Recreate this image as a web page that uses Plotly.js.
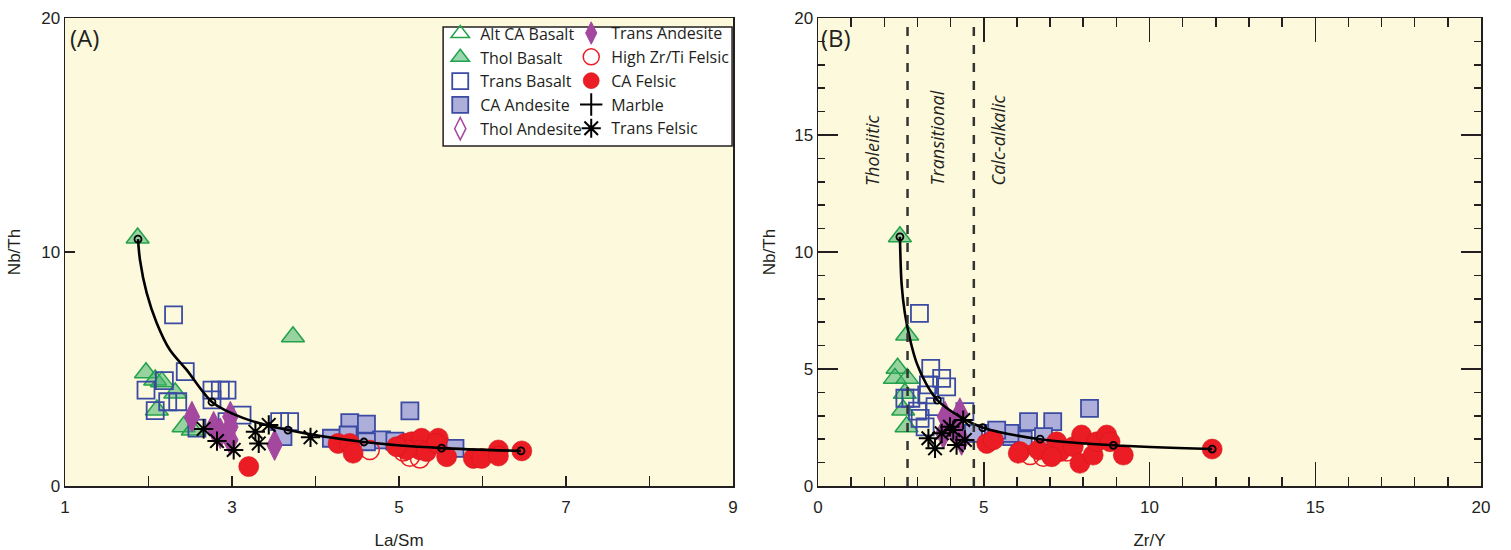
<!DOCTYPE html>
<html><head><meta charset="utf-8">
<script src="https://cdn.plot.ly/plotly-3.0.1.min.js"></script>
<style>html,body{margin:0;padding:0;background:#fff;}#chart{width:1511px;height:550px;}</style>
</head><body><div id="chart"></div>
<script>
// ---------- Panel A (La/Sm vs Nb/Th) ----------
const A_altCABasalt_x = [null], A_altCABasalt_y = [null];
const A_tholBasalt_x = [1.87,3.73,1.97,2.08,2.16,2.32,2.10,2.42,2.53];
const A_tholBasalt_y = [10.6,6.38,4.84,4.53,4.46,3.97,3.25,2.53,2.39];
const A_transBasalt_x = [2.30,2.44,2.19,1.97,2.23,2.35,2.08,2.76,2.86,2.94,2.76,3.12,2.58,2.94,3.57,3.69];
const A_transBasalt_y = [7.31,4.89,4.50,4.10,3.60,3.60,3.22,4.10,4.10,4.10,3.68,3.03,2.47,2.75,2.75,2.75];
const A_caAndesite_x = [5.13,4.41,4.61,4.19,4.39,4.79,4.61,5.67,3.61,4.95];
const A_caAndesite_y = [3.21,2.71,2.64,2.04,2.18,1.97,1.89,1.61,2.11,1.92];
const A_tholAndesite_x = [null], A_tholAndesite_y = [null];
const A_transAndesite_x = [2.52,2.78,2.98,2.98,2.98,3.51,2.86];
const A_transAndesite_y = [2.96,2.53,2.96,2.53,1.97,1.75,2.25];
const A_highZrTi_x = [4.65,5.05,5.25,5.01,5.13];
const A_highZrTi_y = [1.54,1.47,1.18,1.68,1.25];
const A_caFelsic_x = [3.20,4.27,4.41,4.45,5.07,5.15,5.27,5.25,5.47,5.57,5.89,5.99,6.19,6.19,6.47,5.09,5.33,4.97,5.45];
const A_caFelsic_y = [0.83,1.82,1.82,1.40,1.82,1.89,2.04,1.54,2.04,1.25,1.18,1.18,1.54,1.28,1.50,1.54,1.47,1.68,1.82];
const A_marble_x = [null], A_marble_y = [null];
const A_transFelsic_x = [2.66,2.82,3.02,3.28,3.44,3.32,3.94];
const A_transFelsic_y = [2.44,1.92,1.54,2.32,2.61,1.82,2.08];
const A_curve_x = [1.874,1.898,1.978,2.098,2.257,2.457,2.76,3.13,3.67,4.58,5.51,6.46];
const A_curve_y = [10.55,9.66,8.25,6.97,5.81,4.96,3.59,2.91,2.39,1.88,1.62,1.50];
const A_curveTicks_x = [1.874,2.76,3.67,4.58,5.51,6.46];
const A_curveTicks_y = [10.55,3.59,2.39,1.88,1.62,1.50];

// ---------- Panel B (Zr/Y vs Nb/Th) ----------
const B_altCABasalt_x = [null], B_altCABasalt_y = [null];
const B_tholBasalt_x = [2.47,2.69,2.40,2.32,2.69,2.62,2.57,2.67];
const B_tholBasalt_y = [10.65,6.45,5.03,4.60,4.60,3.96,3.25,2.53];
const B_transBasalt_x = [3.06,3.40,3.73,3.88,2.80,3.33,3.28,3.53,3.08,3.23,4.43,2.62,3.00];
const B_transBasalt_y = [7.38,5.03,4.60,4.24,3.75,4.32,3.89,3.39,2.89,2.53,3.18,3.75,3.20];
const B_caAndesite_x = [8.19,6.35,7.08,5.29,5.84,6.19,6.80,4.69,5.79,5.39];
const B_caAndesite_y = [3.32,2.75,2.75,2.25,2.11,1.97,2.11,2.25,2.25,2.39];
const B_tholAndesite_x = [null], B_tholAndesite_y = [null];
const B_transAndesite_x = [3.83,4.28,4.33,3.78,4.08];
const B_transAndesite_y = [2.96,3.11,1.97,2.25,2.53];
const B_highZrTi_x = [6.40,6.80,7.50];
const B_highZrTi_y = [1.32,1.25,1.47];
const B_caFelsic_x = [5.09,5.29,6.09,6.65,7.20,7.30,7.05,7.70,7.95,7.90,8.30,8.41,8.71,8.81,9.21,11.89,6.04];
const B_caFelsic_y = [1.82,1.97,1.47,1.54,1.89,1.47,1.25,1.68,2.18,0.97,1.32,1.89,2.18,1.89,1.32,1.58,1.40];
const B_marble_x = [null], B_marble_y = [null];
const B_transFelsic_x = [3.33,3.53,3.73,3.98,4.18,4.38,4.08,4.43];
const B_transFelsic_y = [2.04,1.61,2.25,2.53,1.75,2.82,2.39,1.97];
const B_curve_x = [2.47,2.52,2.62,2.78,2.98,3.28,3.6,4.28,4.98,6.70,8.91,11.89];
const B_curve_y = [10.65,8.66,7.38,6.24,5.24,4.32,3.67,2.96,2.49,2.0,1.74,1.58];
const B_curveTicks_x = [2.47,3.6,4.97,6.70,8.91,11.89];
const B_curveTicks_y = [10.65,3.67,2.49,2.0,1.74,1.58];
const B_fieldBoundaries = [2.7, 4.7];
const B_fieldLabels = ['Tholeiitic','Transitional','Calc-alkalic'];
const B_fieldLabel_x = [1.63,3.59,5.43];

// ---------- styles ----------
const GREEN = '#22a24a', GREENFILL = 'rgba(70,180,110,0.55)';
const BLUE = '#3b4ba3', LAV = '#aeaedb';
const PURPLE = '#a3479f', RED = '#ec1c24';
const series = [
  {name:'Alt CA Basalt', key:'altCABasalt', legend:'legend', m:{symbol:'triangle-up-open', size:20, color:GREEN, line:{color:GREEN,width:1.5}}},
  {name:'Thol Basalt', key:'tholBasalt', legend:'legend', m:{symbol:'triangle-up', size:20, color:GREENFILL, line:{color:GREEN,width:1.5}}},
  {name:'Trans Basalt', key:'transBasalt', legend:'legend', m:{symbol:'square-open', size:17, color:BLUE, line:{color:BLUE,width:1.8}}},
  {name:'CA Andesite', key:'caAndesite', legend:'legend', m:{symbol:'square', size:17, color:LAV, line:{color:BLUE,width:1.8}}},
  {name:'Thol Andesite', key:'tholAndesite', legend:'legend', m:{symbol:'diamond-tall-open', size:22, color:PURPLE, line:{color:PURPLE,width:1.5}}},
  {name:'Trans Andesite', key:'transAndesite', legend:'legend2', m:{symbol:'diamond-tall', size:22, color:PURPLE, line:{color:PURPLE,width:1}}},
  {name:'High Zr/Ti Felsic', key:'highZrTi', legend:'legend2', m:{symbol:'circle-open', size:19, color:RED, line:{color:RED,width:1.5}}},
  {name:'CA Felsic', key:'caFelsic', legend:'legend2', m:{symbol:'circle', size:20, color:RED, line:{color:'rgba(210,20,30,0.6)',width:1}}},
  {name:'Marble', key:'marble', legend:'legend2', m:{symbol:'cross-thin-open', size:16, color:'#000', line:{color:'#000',width:2}}},
  {name:'Trans Felsic', key:'transFelsic', legend:'legend2', m:{symbol:'asterisk-open', size:16, color:'#000', line:{color:'#000',width:2}}}
];
const DATA = {
  A:{altCABasalt:[A_altCABasalt_x,A_altCABasalt_y],tholBasalt:[A_tholBasalt_x,A_tholBasalt_y],transBasalt:[A_transBasalt_x,A_transBasalt_y],caAndesite:[A_caAndesite_x,A_caAndesite_y],tholAndesite:[A_tholAndesite_x,A_tholAndesite_y],transAndesite:[A_transAndesite_x,A_transAndesite_y],highZrTi:[A_highZrTi_x,A_highZrTi_y],caFelsic:[A_caFelsic_x,A_caFelsic_y],marble:[A_marble_x,A_marble_y],transFelsic:[A_transFelsic_x,A_transFelsic_y]},
  B:{altCABasalt:[B_altCABasalt_x,B_altCABasalt_y],tholBasalt:[B_tholBasalt_x,B_tholBasalt_y],transBasalt:[B_transBasalt_x,B_transBasalt_y],caAndesite:[B_caAndesite_x,B_caAndesite_y],tholAndesite:[B_tholAndesite_x,B_tholAndesite_y],transAndesite:[B_transAndesite_x,B_transAndesite_y],highZrTi:[B_highZrTi_x,B_highZrTi_y],caFelsic:[B_caFelsic_x,B_caFelsic_y],marble:[B_marble_x,B_marble_y],transFelsic:[B_transFelsic_x,B_transFelsic_y]}
};
const drawOrder = ['tholBasalt','altCABasalt','transBasalt','caAndesite','highZrTi','caFelsic','tholAndesite','transAndesite','marble','transFelsic'];
const traces = [];
['A','B'].forEach(p => {
  const xa = p==='A' ? 'x' : 'x2', ya = p==='A' ? 'y' : 'y2';
  drawOrder.forEach(k => {
    const s = series.find(q => q.key===k);
    if (k==='transFelsic') return;
    traces.push({type:'scatter', mode:'markers', x:DATA[p][k][0], y:DATA[p][k][1], xaxis:xa, yaxis:ya,
      name:s.name, legendgroup:s.key, legend:s.legend, showlegend:p==='A', marker:s.m, hoverinfo:'x+y'});
  });
  const cx = p==='A' ? A_curve_x : B_curve_x, cy = p==='A' ? A_curve_y : B_curve_y;
  const tx = p==='A' ? A_curveTicks_x : B_curveTicks_x, ty = p==='A' ? A_curveTicks_y : B_curveTicks_y;
  traces.push({type:'scatter', mode:'lines', x:cx, y:cy, xaxis:xa, yaxis:ya, showlegend:false,
    line:{color:'#000', width:2.6, shape:'spline', smoothing:0.8}, hoverinfo:'skip'});
  traces.push({type:'scatter', mode:'markers', x:tx, y:ty, xaxis:xa, yaxis:ya, showlegend:false,
    marker:{symbol:'circle-open', size:7, color:'#000', line:{color:'#000', width:1.8}}, hoverinfo:'skip'});
  const s = series.find(q => q.key==='transFelsic');
  traces.push({type:'scatter', mode:'markers', x:DATA[p].transFelsic[0], y:DATA[p].transFelsic[1], xaxis:xa, yaxis:ya,
    name:s.name, legendgroup:s.key, legend:s.legend, showlegend:p==='A', marker:s.m});
});
traces.forEach(t => { const i = series.findIndex(q => q.name===t.name); if (i>=0) t.legendrank = i+1; });

const FONT = '"Liberation Sans", Arial, sans-serif';
const tickFont = {family:FONT, size:17, color:'#231f20'};
const baseAxis = {showgrid:false, zeroline:false, showline:true, linecolor:'#231f20', linewidth:1.5,
  ticks:'inside', tickcolor:'#231f20', tickwidth:1.5, tickfont:tickFont, fixedrange:true};

const shapes = [
  {type:'rect', xref:'x domain', yref:'y domain', x0:0.566, x1:0.9985, y0:0.7265, y1:0.981,
   fillcolor:'#ffffff', line:{color:'#231f20', width:1.5}, layer:'below'}
];
B_fieldBoundaries.forEach(v => shapes.push({type:'line', xref:'x2', yref:'y2 domain', x0:v, x1:v, y0:0, y1:1,
  line:{color:'#333', width:2.5, dash:'dash'}}));

const annotations = [
  {text:'(A)', xref:'x domain', yref:'y domain', x:0.004, y:0.997, xanchor:'left', yanchor:'top', showarrow:false,
   font:{family:'Open Sans, sans-serif', size:24, color:'#231f20'}},
  {text:'(B)', xref:'x2 domain', yref:'y2 domain', x:0.002, y:0.997, xanchor:'left', yanchor:'top', showarrow:false,
   font:{family:'Open Sans, sans-serif', size:24, color:'#231f20'}}
];
B_fieldLabels.forEach((t,i) => annotations.push({text:'<i>'+t+'</i>', xref:'x2', yref:'y2', x:B_fieldLabel_x[i], y:12.74,
  xanchor:'center', yanchor:'bottom', textangle:-90, showarrow:false, font:{family:'Open Sans, sans-serif', size:18, color:'#231f20'}}));

const legendBase = {bgcolor:'rgba(0,0,0,0)', borderwidth:0, font:{family:'Open Sans, sans-serif', size:16, color:'#231f20'},
  xanchor:'left', yanchor:'top', tracegroupgap:3, itemclick:false, itemdoubleclick:false, traceorder:'normal'};

const layout = {
  width:1511, height:550, paper_bgcolor:'#ffffff', plot_bgcolor:'#fdf9dc',
  margin:{l:65, r:30, t:18, b:64},
  showlegend:true,
  legend:Object.assign({}, legendBase, {x:0.265, y:1.003}),
  legend2:Object.assign({}, legendBase, {x:0.3575, y:1.004}),
  xaxis:Object.assign({}, baseAxis, {domain:[0,0.4718], range:[1,9], tick0:1, dtick:2, ticklen:10, mirror:true, ticklabelstandoff:5,
    minor:{dtick:1, tick0:1, ticklen:10, ticks:'inside', tickcolor:'#231f20', tickwidth:1.5},
    title:{text:'La/Sm', font:{family:FONT, size:17, color:'#231f20'}, standoff:18}}),
  yaxis:Object.assign({}, baseAxis, {domain:[0,1], range:[0,20], tickvals:[0,10,20], ticklen:10, mirror:true,
    title:{text:'Nb/Th', font:{family:FONT, size:17, color:'#231f20'}, standoff:16}}),
  xaxis2:Object.assign({}, baseAxis, {domain:[0.5318,1], range:[0,20], anchor:'y2', tick0:0, dtick:5, ticklen:24, mirror:'ticks', ticklabelstandoff:5,
    minor:{dtick:1, tick0:0, ticklen:9, ticks:'inside', tickcolor:'#231f20', tickwidth:1.5},
    title:{text:'Zr/Y', font:{family:FONT, size:17, color:'#231f20'}, standoff:18}}),
  yaxis2:Object.assign({}, baseAxis, {domain:[0,1], range:[0,20], anchor:'x2', tick0:0, dtick:5, ticklen:20, mirror:'ticks',
    minor:{dtick:1, tick0:0, ticklen:7, ticks:'inside', tickcolor:'#231f20', tickwidth:1.5},
    title:{text:'Nb/Th', font:{family:FONT, size:17, color:'#231f20'}, standoff:14}}),
  shapes:shapes, annotations:annotations
};
Plotly.newPlot('chart', traces, layout, {staticPlot:true, displayModeBar:false});
</script></body></html>
